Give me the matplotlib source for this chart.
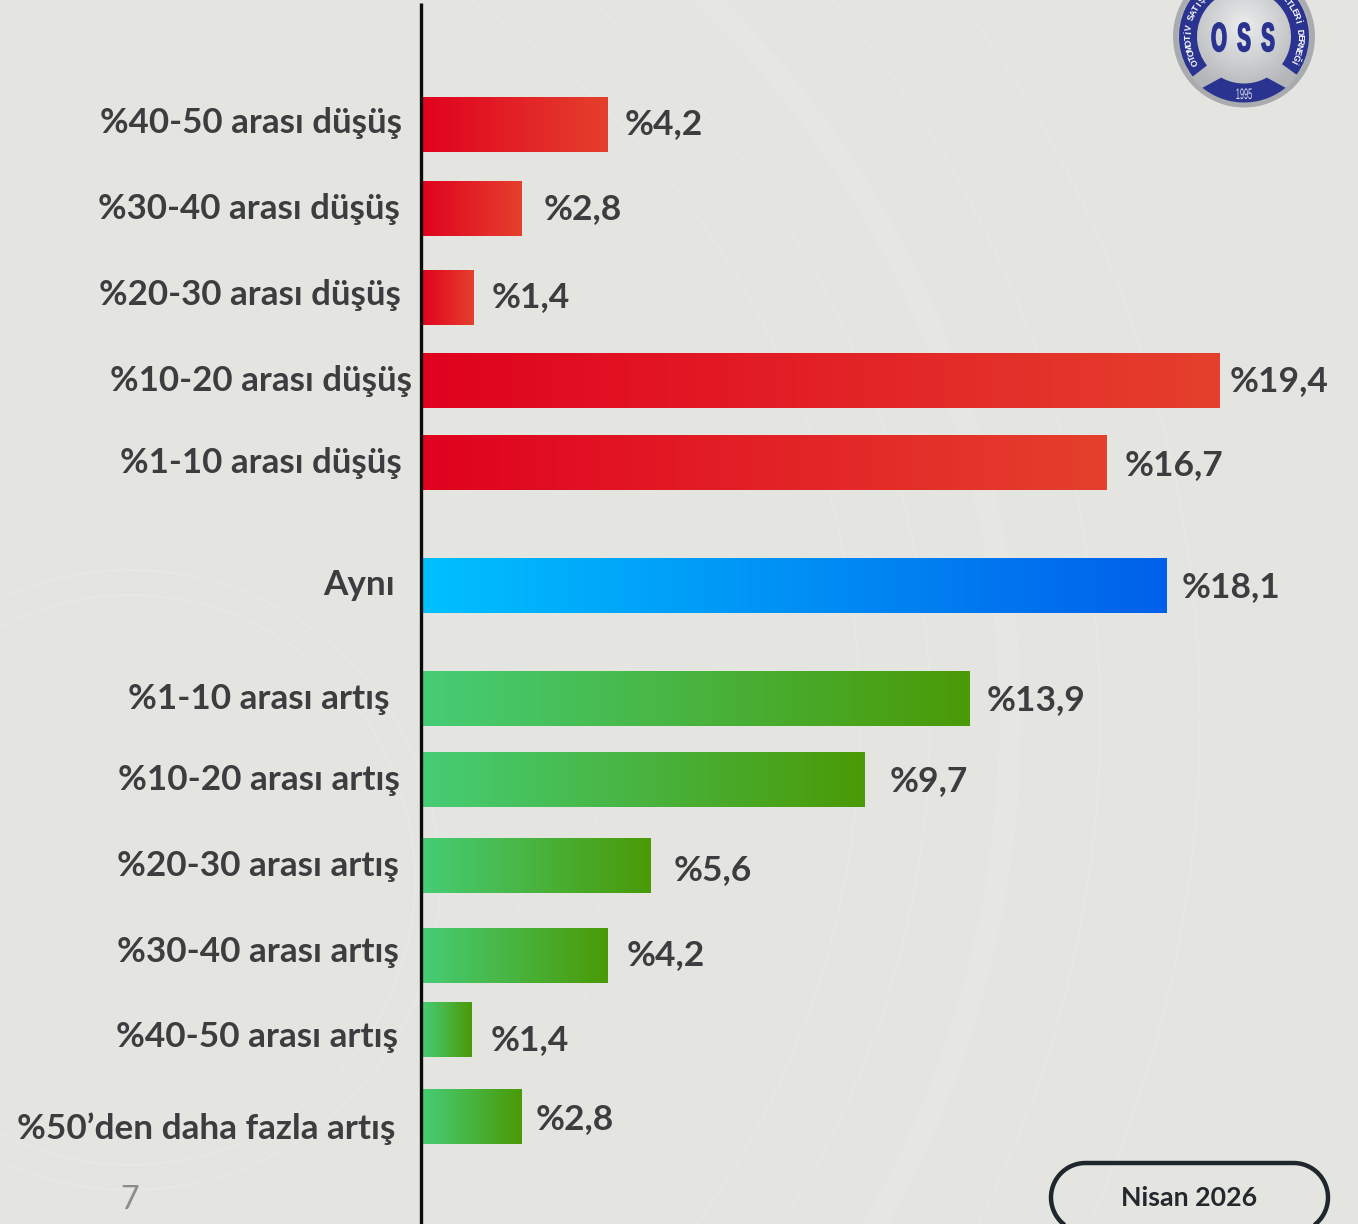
import numpy as np
import matplotlib
matplotlib.use("Agg")
import matplotlib.pyplot as plt
from matplotlib.colors import LinearSegmentedColormap
from matplotlib.patches import Circle, Wedge, Polygon
from matplotlib.patheffects import AbstractPathEffect
from matplotlib.transforms import Affine2D

# ---- data ----
categories = ["%40-50 arası düşüş", "%30-40 arası düşüş", "%20-30 arası düşüş",
              "%10-20 arası düşüş", "%1-10 arası düşüş", "Aynı",
              "%1-10 arası artış", "%10-20 arası artış", "%20-30 arası artış",
              "%30-40 arası artış", "%40-50 arası artış", "%50’den daha fazla artış"]
value_labels = ["%4,2", "%2,8", "%1,4", "%19,4", "%16,7", "%18,1",
                "%13,9", "%9,7", "%5,6", "%4,2", "%1,4", "%2,8"]
# bar lengths as drawn in the picture (not strictly proportional to the printed labels)
bar_lengths = [4.5, 2.41, 1.26, 19.4, 16.65, 18.11, 13.32, 10.77, 5.55, 4.5, 1.2, 2.41]
groups = ["down"] * 5 + ["same"] + ["up"] * 6

# ---- layout (pixels of the 1358x1224 canvas) ----
W, H = 1358, 1224
X0 = 422
PX_PER_UNIT = 41.13
row_y = [125, 208.5, 297.2, 380.5, 462.5, 585.5, 698.5, 779.2, 865.5, 955.5, 1029.5, 1116.5]
label_right = [402.5, 399.5, 400.5, 411.5, 401.5, 394.5, 389.5, 399.5, 398.5, 398.5, 397.5, 395.5]
label_base = [133, 219, 305, 391, 473, 595, 709, 790, 876, 962, 1047, 1139]
label_size = [25.15] * 5 + [25.25] * 7
value_left = [625, 544, 492, 1230, 1125, 1182, 987, 890, 674, 627, 491, 536]
value_base = [134, 219, 307, 391, 475, 597, 710, 791, 880, 965, 1050, 1129]
gradients = {"down": ("#e0021f", "#e5402d"), "same": ("#00c0ff", "#0060ea"), "up": ("#46cd76", "#4a9a06")}

BG = "#e4e5e1"
TXT = "#3c3d3e"
FONT = "Lato"


class Squeeze(AbstractPathEffect):
    """Narrow a text horizontally about a display x and thicken it, keeping it a real text."""
    def __init__(self, cx, sx, stroke=0.0, color="k"):
        super().__init__()
        self.cx, self.sx, self.stroke, self.color = cx, sx, stroke, color

    def draw_path(self, renderer, gc, tpath, affine, rgbFace=None):
        squeeze = Affine2D().translate(-self.cx, 0).scale(self.sx, 1).translate(self.cx, 0)
        gc0 = renderer.new_gc()
        gc0.copy_properties(gc)
        gc0.set_linewidth(self.stroke)
        gc0.set_foreground(self.color)
        renderer.draw_path(gc0, tpath, affine + squeeze, rgbFace)
        gc0.restore()


fig = plt.figure(figsize=(W / 100, H / 100), dpi=100, facecolor=BG)

# background layer with faint arcs
bg = fig.add_axes([0, 0, 1, 1], zorder=0)
bg.set_xlim(0, W); bg.set_ylim(H, 0); bg.axis("off")
t = np.linspace(0, 2 * np.pi, 900)
for cx, cy, r, lw, col in [(0, 720, 860, 1.4, "#e7e8e4"), (0, 720, 930, 1.4, "#e7e8e4"),
                           (0, 720, 1010, 16, "#e6e7e3"), (0, 720, 1100, 1.4, "#e7e8e4"),
                           (0, 720, 1200, 1.4, "#e7e8e4"), (130, 880, 285, 1.6, "#e7e8e4"),
                           (130, 880, 310, 1.6, "#e7e8e4"), (130, 880, 390, 1.4, "#e6e7e3"),
                           (130, 880, 470, 1.4, "#e6e7e3")]:
    bg.plot(cx + r * np.cos(t), cy + r * np.sin(t), color=col, lw=lw)

# bars on a real value axis
ax = fig.add_axes([X0 / W, 0, (W - X0) / W, 1], zorder=2)
ax.patch.set_alpha(0)
ax.axis("off")
bars = ax.barh(row_y, bar_lengths, height=55, color="none", edgecolor="none")
for rect, g in zip(bars, groups):
    cmap = LinearSegmentedColormap.from_list("g", gradients[g])
    x, y, w, h = rect.get_x(), rect.get_y(), rect.get_width(), rect.get_height()
    ax.imshow(np.linspace(0, 1, 256).reshape(1, -1), cmap=cmap, aspect="auto",
              extent=(x, x + w, y + h, y), zorder=3)
ax.set_xlim(0, (W - X0) / PX_PER_UNIT)
ax.set_ylim(H, 0)

# overlay canvas for texts and decorations
cv = fig.add_axes([0, 0, 1, 1], zorder=3)
cv.patch.set_alpha(0)
cv.axis("off")

for name, xr, yb, fs in zip(categories, label_right, label_base, label_size):
    cv.text(xr, yb, name, ha="right", va="baseline", fontsize=fs, family=FONT,
            weight="bold", color=TXT)
for val, xl, yb in zip(value_labels, value_left, value_base):
    cv.text(xl, yb, val, ha="left", va="baseline", fontsize=25.5, family=FONT,
            weight="bold", color=TXT)

# axis line
cv.plot([420.5, 420.5], [3, H], color="#0c0c0c", lw=2.4, solid_capstyle="butt")

# page number
cv.text(130, 1209, "7", ha="center", va="baseline", fontsize=23, family=FONT, color="#8b8c8c")

# date pill
PILL_L, PILL_R, PILL_T, PILL_B = 1051, 1328, 1163, 1232
pr = (PILL_B - PILL_T) / 2
pc = (PILL_T + PILL_B) / 2
right_a = np.radians(np.linspace(-90, 90, 60))
left_a = np.radians(np.linspace(90, 270, 60))
cv.add_patch(Polygon(np.r_[np.c_[PILL_R - pr + pr * np.cos(right_a), pc + pr * np.sin(right_a)],
                           np.c_[PILL_L + pr + pr * np.cos(left_a), pc + pr * np.sin(left_a)]],
                     closed=True, fc="none", ec="#1f262c", lw=3.2))
cv.text(1189.5, 1205.5, "Nisan 2026", ha="center", va="baseline", fontsize=19.3, family=FONT,
        weight="bold", color="#23282d")

# logo
LX, LY, LR = 1244, 36.5, 71
NAVY = "#2a3490"
cv.add_patch(Circle((LX, LY), LR, fc="#a9abae", ec="none"))
yy, xx = np.mgrid[-1:1:300j, -1:1:300j]
shade = np.clip(np.hypot(xx, yy + 0.15), 0, 1)
lg = cv.imshow(shade, cmap=LinearSegmentedColormap.from_list("m", ["#eceded", "#b4b6b9"]),
               extent=(LX - 66, LX + 66, LY + 66, LY - 66), aspect="auto", zorder=1.5)
lg.set_clip_path(Circle((LX, LY), 66, transform=cv.transData))
cv.set_xlim(0, W); cv.set_ylim(H, 0)
# y grows downwards here, so wedge angles run clockwise on screen
cv.add_patch(Wedge((LX, LY), 65, 142, 270, width=18, fc=NAVY, ec="none", zorder=2))
cv.add_patch(Wedge((LX, LY), 65, -90, 36, width=18, fc=NAVY, ec="none", zorder=2))
a_out = np.radians(np.linspace(51, 129, 40))
a_in = np.radians(np.linspace(119, 61, 30))
cv.add_patch(Polygon(np.r_[np.c_[LX + 66 * np.cos(a_out), LY + 66 * np.sin(a_out)],
                           np.c_[LX + 47 * np.cos(a_in), LY + 47 * np.sin(a_in)]],
                     closed=True, fc=NAVY, ec="none", zorder=2))
for ch, xc in zip("OSS", (1219, 1244, 1268)):
    cv.text(xc, 51, ch, ha="center", va="baseline", fontsize=29, family="Liberation Sans",
            weight="bold", color=NAVY, zorder=4,
            path_effects=[Squeeze(xc, 0.5, stroke=1.2, color=NAVY)])
cv.text(LX, 99, "1995", ha="center", va="baseline", fontsize=11, family="Liberation Sans",
        color="#dfe1ee", zorder=4, path_effects=[Squeeze(LX, 0.48, color="#dfe1ee")])


def arc_text(s, a0, a1):
    for ch, a in zip(s, np.linspace(a0, a1, len(s))):
        r = 55.5
        x = LX + r * np.cos(np.radians(a))
        y = LY - r * np.sin(np.radians(a))
        cv.text(x, y, ch, ha="center", va="center", fontsize=6.4, family="Liberation Sans",
                weight="bold", color="white", rotation=a - 90, rotation_mode="anchor", zorder=4)


arc_text("OTOMOTİV SATIŞ", 207, 139)
arc_text("METLERİ DERNEĞİ", 48, -27)

fig.savefig("out.png", dpi=100, facecolor=BG)
